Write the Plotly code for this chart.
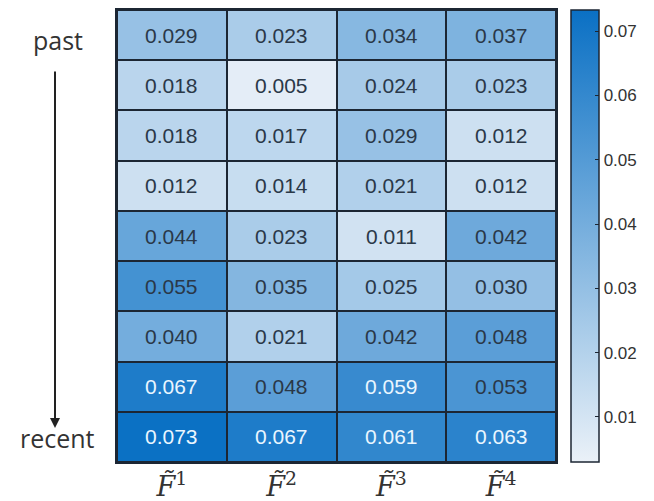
import plotly.graph_objects as go

rows = ["r1", "r2", "r3", "r4", "r5", "r6", "r7", "r8", "r9"]
cols = ["F1", "F2", "F3", "F4"]
col_labels = ["<i>F̃</i><sup>1</sup>", "<i>F̃</i><sup>2</sup>", "<i>F̃</i><sup>3</sup>", "<i>F̃</i><sup>4</sup>"]
values = [
    [0.029, 0.023, 0.034, 0.037],
    [0.018, 0.005, 0.024, 0.023],
    [0.018, 0.017, 0.029, 0.012],
    [0.012, 0.014, 0.021, 0.012],
    [0.044, 0.023, 0.011, 0.042],
    [0.055, 0.035, 0.025, 0.030],
    [0.040, 0.021, 0.042, 0.048],
    [0.067, 0.048, 0.059, 0.053],
    [0.073, 0.067, 0.061, 0.063],
]
cbar_ticks = [0.01, 0.02, 0.03, 0.04, 0.05, 0.06, 0.07]

W, H = 654, 501
L, R, T, B = 117, 98, 10, 39
ph = H - T - B
pw = W - L - R

fig = go.Figure()
fig.add_trace(go.Heatmap(
    z=values, x=cols, y=rows,
    colorscale=[[0, "#eaf1f8"], [1, "#0a70c4"]],
    zmin=0.003, zmax=0.0733,
    xgap=2, ygap=2,
    hoverinfo="skip",
    colorbar=dict(
        thickness=28, len=1.0, lenmode="fraction", y=0.5, yanchor="middle",
        x=1.034, xanchor="left", xpad=0, ypad=0,
        outlinecolor="#1c2633", outlinewidth=1.5,
        tickvals=cbar_ticks, ticktext=[f"{v:.2f}" for v in cbar_ticks],
        ticks="inside", ticklen=4, tickcolor="#1c2633",
        tickfont=dict(family="Liberation Sans", size=17, color="#333333"),
    ),
))

for i, r in enumerate(rows):
    for j, c in enumerate(cols):
        v = values[i][j]
        fig.add_annotation(
            x=c, y=r, text=f"{v:.3f}", showarrow=False,
            font=dict(family="Liberation Sans", size=21,
                      color="#eaf6ff" if v >= 0.057 else "#2a3848"),
        )

fig.add_annotation(xref="paper", yref="paper", x=(58 - L) / pw, y=(H - B - 40) / ph,
                   xanchor="center", yanchor="middle",
                   text="past", showarrow=False,
                   font=dict(family="Open Sans", size=25, color="#333333"))
fig.add_annotation(xref="paper", yref="paper", x=(57 - L) / pw, y=(H - B - 438) / ph,
                   xanchor="center", yanchor="middle",
                   text="recent", showarrow=False,
                   font=dict(family="Open Sans", size=25, color="#333333"))
fig.add_annotation(xref="paper", yref="paper", x=(55 - L) / pw, y=(H - B - 428) / ph,
                   ax=0, ay=-358, axref="pixel", ayref="pixel",
                   text="", showarrow=True, arrowhead=2, arrowsize=1.0,
                   arrowwidth=2, arrowcolor="#222222")

fig.update_xaxes(tickvals=cols, ticktext=col_labels, showgrid=False, zeroline=False,
                 showline=True, mirror=True, linecolor="#1c2633", linewidth=2,
                 tickfont=dict(family="DejaVu Serif", size=27, color="#333333"),
                 ticks="", automargin=False)
fig.update_yaxes(autorange="reversed", showticklabels=False, showgrid=False,
                 zeroline=False, showline=True, mirror=True, linecolor="#1c2633",
                 linewidth=2, ticks="", automargin=False)

fig.update_layout(
    width=W, height=H,
    margin=dict(l=L, r=R, t=T, b=B, autoexpand=False),
    plot_bgcolor="#1c2633", paper_bgcolor="white",
)

fig.write_html("out.html")
